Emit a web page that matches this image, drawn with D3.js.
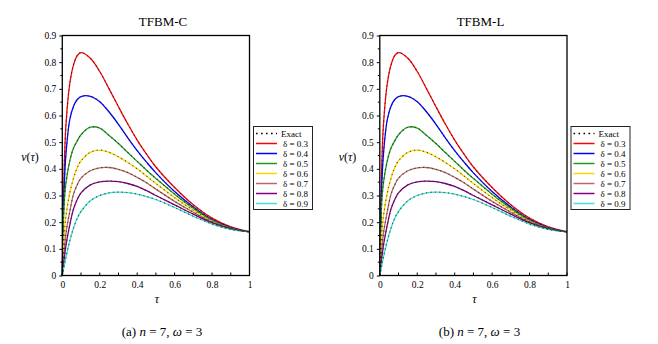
<!DOCTYPE html>
<html>
<head>
<meta charset="utf-8">
<script src="https://cdn.jsdelivr.net/npm/d3@7/dist/d3.min.js"></script>
<style>
  html, body { margin: 0; padding: 0; background: #fff; }
</style>
</head>
<body>
<svg id="chart" width="658" height="344"></svg>
<script>
// ---- data ----
const tau = [0, 0.01, 0.02, 0.04, 0.06, 0.08, 0.1, 0.15, 0.2, 0.25, 0.3, 0.35, 0.4, 0.45, 0.5, 0.6, 0.7, 0.8, 0.9, 1.0];
const deltaLabels = ["δ = 0.3", "δ = 0.4", "δ = 0.5", "δ = 0.6", "δ = 0.7", "δ = 0.8", "δ = 0.9"];
const v03 = [0, 0.40, 0.57, 0.72, 0.79, 0.825, 0.836, 0.815, 0.765, 0.70, 0.633, 0.568, 0.508, 0.455, 0.407, 0.33, 0.265, 0.215, 0.182, 0.164];
const v04 = [0, 0.33, 0.46, 0.585, 0.635, 0.66, 0.671, 0.672, 0.652, 0.613, 0.567, 0.516, 0.468, 0.425, 0.385, 0.315, 0.257, 0.21, 0.18, 0.164];
const v05 = [0, 0.27, 0.35, 0.43, 0.478, 0.505, 0.528, 0.556, 0.553, 0.525, 0.495, 0.461, 0.428, 0.395, 0.364, 0.305, 0.252, 0.207, 0.178, 0.164];
const v06 = [0, 0.15, 0.225, 0.31, 0.365, 0.405, 0.43, 0.462, 0.47, 0.462, 0.445, 0.424, 0.40, 0.373, 0.345, 0.292, 0.245, 0.204, 0.177, 0.164];
const v07 = [0, 0.09, 0.16, 0.24, 0.305, 0.34, 0.365, 0.393, 0.404, 0.405, 0.398, 0.386, 0.368, 0.348, 0.324, 0.278, 0.237, 0.20, 0.176, 0.164];
const v08 = [0, 0.06, 0.115, 0.19, 0.25, 0.285, 0.31, 0.34, 0.351, 0.354, 0.352, 0.345, 0.334, 0.318, 0.30, 0.265, 0.23, 0.197, 0.175, 0.164];
const v09 = [0, 0.035, 0.07, 0.13, 0.178, 0.215, 0.24, 0.28, 0.30, 0.31, 0.313, 0.311, 0.305, 0.296, 0.285, 0.255, 0.222, 0.193, 0.173, 0.164];
const seriesValues = [v03, v04, v05, v06, v07, v08, v09];
const colors = ["#ff0000", "#0000ff", "#1e9a1e", "#ffd700", "#b86868", "#800080", "#40e0d0"];
const yTicks = [0, 0.1, 0.2, 0.3, 0.4, 0.5, 0.6, 0.7, 0.8, 0.9];
const xTicks = [0, 0.2, 0.4, 0.6, 0.8, 1];
const panelTitles = ["TFBM-C", "TFBM-L"];
const panelLetters = ["(a)", "(b)"];

const FONT = "'Liberation Serif', 'Times New Roman', 'DejaVu Serif', serif";
const svg = d3.select("#chart").style("font-family", FONT);

function drawPanel(ox, title, letter) {
  const g = svg.append("g").attr("transform", `translate(${ox},0)`);
  const x = d3.scaleLinear().domain([0, 1]).range([62.3, 249.5]);
  const y = d3.scaleLinear().domain([0, 0.9]).range([275.5, 35.5]);

  const line = d3.line().x(d => x(d[0])).y(d => y(d[1])).curve(d3.curveCatmullRom.alpha(0.5));
  seriesValues.forEach((vals, i) => {
    const pts = tau.map((t, k) => [t, vals[k]]);
    g.append("path").attr("d", line(pts)).attr("fill", "none")
      .attr("stroke", colors[i]).attr("stroke-width", 1.3);
  });
  seriesValues.forEach((vals) => {
    const pts = tau.map((t, k) => [t, vals[k]]);
    g.append("path").attr("d", line(pts)).attr("fill", "none")
      .attr("stroke", "#222").attr("stroke-width", 1.2)
      .attr("stroke-dasharray", "1.2,3.2").attr("opacity", 0.7);
  });

  g.append("rect").attr("x", x(0)).attr("y", y(0.9))
    .attr("width", x(1) - x(0)).attr("height", y(0) - y(0.9))
    .attr("fill", "none").attr("stroke", "#000").attr("stroke-width", 1.3);

  const yAxis = d3.axisLeft(y).tickValues(yTicks).tickSize(3).tickPadding(3)
    .tickFormat(d => d === 0 ? "0" : d3.format(".1f")(d));
  const ya = g.append("g").attr("transform", `translate(${x(0)},0)`).call(yAxis);
  ya.attr("font-family", null).style("font-family", FONT);
  ya.select(".domain").remove();
  ya.selectAll("text").attr("font-size", 9.5).style("font-family", FONT);
  const yMinor = d3.range(0.05, 0.9, 0.1);
  g.selectAll(".ymin").data(yMinor).enter().append("line")
    .attr("x1", x(0) - 2).attr("x2", x(0)).attr("y1", d => y(d)).attr("y2", d => y(d))
    .attr("stroke", "#000").attr("stroke-width", 1);

  const xAxis = d3.axisBottom(x).tickValues(xTicks).tickSize(0).tickPadding(6)
    .tickFormat(d => d === 0 ? "0" : d === 1 ? "1" : d3.format(".1f")(d));
  const xa = g.append("g").attr("transform", `translate(0,${y(0)})`).call(xAxis);
  xa.attr("font-family", null).style("font-family", FONT);
  xa.select(".domain").remove();
  xa.selectAll("text").attr("font-size", 9.5).style("font-family", FONT);
  const xAll = d3.range(0, 1.001, 0.1);
  g.selectAll(".xtk").data(xAll).enter().append("line")
    .attr("x1", d => x(d)).attr("x2", d => x(d)).attr("y1", y(0)).attr("y2", y(0) - 3)
    .attr("stroke", "#000").attr("stroke-width", 1);

  const txt = () => g.append("text").style("font-family", FONT).attr("fill", "#000");
  txt().attr("x", 163).attr("y", 26).attr("text-anchor", "middle")
    .attr("font-size", 13).text(title);
  const yl = txt().attr("x", 30).attr("y", 161).attr("text-anchor", "middle").attr("font-size", 12);
  yl.append("tspan").attr("font-style", "italic").text("v");
  yl.append("tspan").text("(");
  yl.append("tspan").attr("font-style", "italic").text("τ");
  yl.append("tspan").text(")");
  txt().attr("x", 157).attr("y", 303).attr("text-anchor", "middle")
    .attr("font-size", 12).attr("font-style", "italic").text("τ");
  const cap = txt().attr("x", 162).attr("y", 336).attr("text-anchor", "middle").attr("font-size", 13);
  cap.append("tspan").text(letter + " ");
  cap.append("tspan").attr("font-style", "italic").text("n");
  cap.append("tspan").text(" = 7, ");
  cap.append("tspan").attr("font-style", "italic").text("ω");
  cap.append("tspan").text(" = 3");

  const lg = g.append("g");
  lg.append("rect").attr("x", 253.5).attr("y", 126.5).attr("width", 59).attr("height", 83)
    .attr("fill", "#fff").attr("stroke", "#222").attr("stroke-width", 1);
  const rowY = k => 133.5 + k * 10;
  lg.append("line").attr("x1", 256).attr("x2", 277).attr("y1", rowY(0)).attr("y2", rowY(0))
    .attr("stroke", "#000").attr("stroke-width", 1.6).attr("stroke-dasharray", "1.6,3.4");
  lg.append("text").style("font-family", FONT).attr("x", 281).attr("y", rowY(0) + 3).attr("font-size", 9).text("Exact");
  deltaLabels.forEach((lab, i) => {
    lg.append("line").attr("x1", 256).attr("x2", 277).attr("y1", rowY(i + 1)).attr("y2", rowY(i + 1))
      .attr("stroke", colors[i]).attr("stroke-width", 1.5);
    lg.append("text").style("font-family", FONT).attr("x", 283).attr("y", rowY(i + 1) + 3).attr("font-size", 9).text(lab);
  });
}

drawPanel(0, panelTitles[0], panelLetters[0]);
drawPanel(317.5, panelTitles[1], panelLetters[1]);
</script>
</body>
</html>
